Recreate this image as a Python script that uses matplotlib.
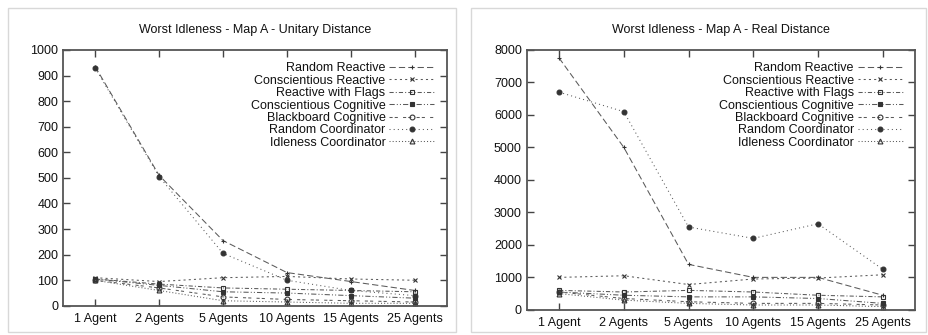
import matplotlib.pyplot as plt
from matplotlib.patches import Rectangle

plt.rcParams["font.family"] = ["Liberation Sans", "DejaVu Sans"]

agents = ["1 Agent", "2 Agents", "5 Agents", "10 Agents", "15 Agents", "25 Agents"]
series = ["Random Reactive", "Conscientious Reactive", "Reactive with Flags",
          "Conscientious Cognitive", "Blackboard Cognitive", "Random Coordinator",
          "Idleness Coordinator"]

# Worst idleness, unitary distance
unitary_random_reactive = [935, 510, 255, 130, 95, 60]
unitary_consc_reactive = [110, 95, 110, 115, 105, 100]
unitary_flags = [105, 85, 70, 65, 60, 55]
unitary_consc_cognitive = [105, 80, 55, 50, 40, 30]
unitary_blackboard = [100, 70, 35, 25, 20, 15]
unitary_random_coord = [930, 505, 205, 100, 60, 40]
unitary_idleness_coord = [100, 60, 20, 15, 10, 10]

# Worst idleness, real distance
real_random_reactive = [7750, 5000, 1400, 1000, 1000, 450]
real_consc_reactive = [1000, 1050, 780, 950, 980, 1080]
real_flags = [600, 550, 600, 550, 450, 400]
real_consc_cognitive = [550, 450, 400, 400, 350, 200]
real_blackboard = [550, 350, 250, 200, 200, 150]
real_random_coord = [6700, 6100, 2550, 2200, 2650, 1250]
real_idleness_coord = [500, 300, 200, 150, 150, 100]

styles = [
    dict(marker="+", ls=(0, (6, 3)), mfc="none"),
    dict(marker="x", ls=(0, (2, 3)), mfc="none"),
    dict(marker="s", ls=(0, (4, 2, 1, 2)), mfc="none"),
    dict(marker="s", ls=(0, (5, 2, 1, 2, 1, 2)), mfc="#333333"),
    dict(marker="o", ls=(0, (3, 2, 3, 5)), mfc="none"),
    dict(marker="o", ls=(0, (1, 3)), mfc="#333333"),
    dict(marker="^", ls=(0, (1, 2)), mfc="none"),
]


def draw(ax, data, title, ymax, ystep):
    x = list(range(1, len(agents) + 1))
    for name, vals, st in zip(series, data, styles):
        ax.plot(x, vals, color="#5a5a5a", lw=0.75, ms=3.5, mew=0.8,
                mec="#333333", label=name, **st)
    ax.set_xlim(0.5, len(agents) + 0.5)
    ax.set_ylim(0, ymax)
    ax.set_xticks(x)
    ax.set_xticklabels(agents)
    ax.set_yticks(range(0, ymax + 1, ystep))
    ax.tick_params(direction="in", top=True, right=True, length=5,
                   width=1, colors="#444444", labelsize=9, labelcolor="#111111")
    ax.tick_params(axis="x", pad=5)
    for sp in ax.spines.values():
        sp.set_color("#555555")
        sp.set_linewidth(1.3)
    ax.set_title(title, fontsize=9, pad=12, color="#111111")
    leg = ax.legend(loc="upper right", frameon=False, markerfirst=False, fontsize=9,
                    labelspacing=0.03, handlelength=3.6, handletextpad=0.3,
                    borderaxespad=0.6)
    for t in leg.get_texts():
        t.set_color("#111111")


fig = plt.figure(figsize=(9.29, 3.35), dpi=100)
fig.patches.append(Rectangle((0.009, 0.009), 0.482, 0.967, transform=fig.transFigure,
                             fill=False, ec="#d8d8d8", lw=1))
fig.patches.append(Rectangle((0.507, 0.009), 0.49, 0.967, transform=fig.transFigure,
                             fill=False, ec="#d8d8d8", lw=1))

ax1 = fig.add_axes([0.068, 0.087, 0.413, 0.764])
draw(ax1, [unitary_random_reactive, unitary_consc_reactive, unitary_flags,
           unitary_consc_cognitive, unitary_blackboard, unitary_random_coord,
           unitary_idleness_coord],
     "Worst Idleness - Map A - Unitary Distance", 1000, 100)

ax2 = fig.add_axes([0.567, 0.075, 0.418, 0.776])
draw(ax2, [real_random_reactive, real_consc_reactive, real_flags,
           real_consc_cognitive, real_blackboard, real_random_coord,
           real_idleness_coord],
     "Worst Idleness - Map A - Real Distance", 8000, 1000)

fig.savefig("out.png", dpi=100)
plt.close(fig)
